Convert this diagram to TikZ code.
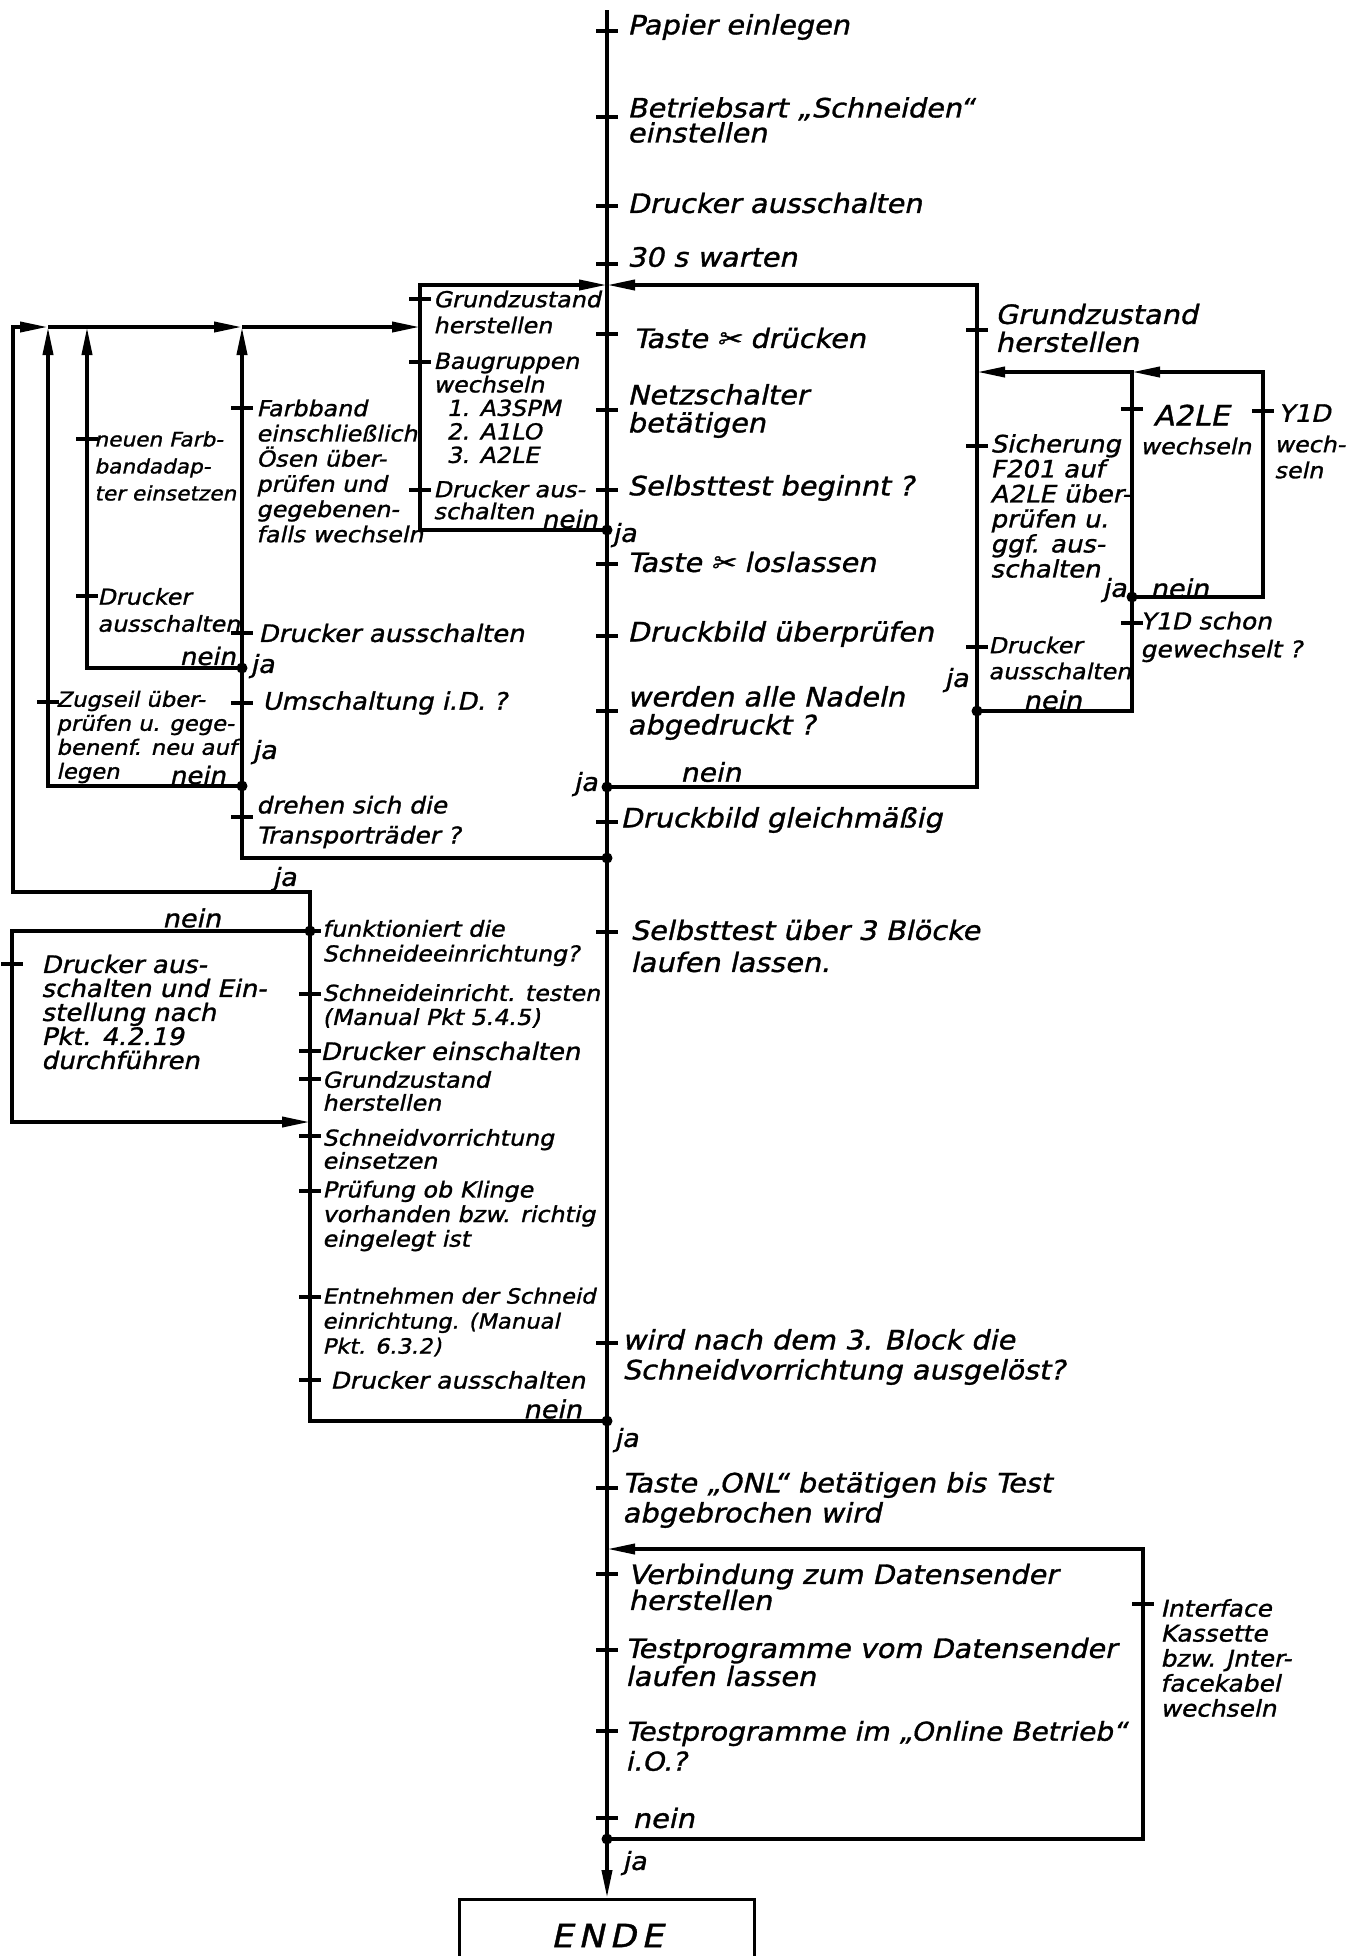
\documentclass[tikz,border=0pt]{standalone}
\usepackage{fontspec}
\newfontfamily\hand{DejaVu Sans}[FakeSlant=0.22,FakeStretch=1.08,FakeBold=1.2]
\usetikzlibrary{arrows.meta}
\newcommand\hsz[2]{\hand\fontsize{#1}{#2}\selectfont}
\newcommand\tickmark[2]{\draw[tck] (#1-11,#2) -- (#1+11,#2);}
\begin{document}
\begin{tikzpicture}[x=0.5pt,y=-0.5pt,
  fl/.style={line width=1.9pt},
  arr/.style={-{Triangle[length=14pt,width=5pt]}},
  tck/.style={line width=1.7pt},
  dotn/.style={circle,fill=black,inner sep=0pt,minimum size=5.5pt},
  tx/.style={anchor=west,align=left,inner sep=0pt},
  txe/.style={anchor=east,align=right,inner sep=0pt},
  big/.style={tx,font=\hsz{13.3}{14}},
  lab/.style={inner sep=0pt,font=\hsz{12.5}{13}}
]
\useasboundingbox (0,0) rectangle (1357,1956);
% ---------- coordinates ----------
\coordinate (top) at (607,10);
\coordinate (j285) at (607,285);
\coordinate (d530) at (607,530);
\coordinate (d787) at (607,787);
\coordinate (d858) at (607,858);
\coordinate (d1421) at (607,1421);
\coordinate (j1549) at (607,1549);
\coordinate (d1839) at (607,1839);
\coordinate (endtop) at (607,1898);
\coordinate (bbBR) at (977,787);
\coordinate (bbTR) at (977,285);
\coordinate (r711) at (977,711);
\coordinate (r372) at (977,372);
\coordinate (m711) at (1132,711);
\coordinate (m372) at (1132,372);
\coordinate (m597) at (1132,597);
\coordinate (q597) at (1263,597);
\coordinate (q372) at (1263,372);
\coordinate (lbBL) at (420,530);
\coordinate (lbTL) at (420,285);
\coordinate (h13) at (13,327);
\coordinate (h48) at (48,327);
\coordinate (h87) at (87,327);
\coordinate (h242) at (242,327);
\coordinate (h420) at (420,327);
\coordinate (v242b) at (242,858);
\coordinate (d668) at (242,668);
\coordinate (c87) at (87,668);
\coordinate (d786) at (242,786);
\coordinate (c48) at (48,786);
\coordinate (o310b) at (310,1421);
\coordinate (o310t) at (310,892);
\coordinate (o13b) at (13,892);
\coordinate (d931) at (310,931);
\coordinate (n12t) at (12,931);
\coordinate (n12b) at (12,1122);
\coordinate (n310) at (310,1122);
\coordinate (vBR) at (1143,1839);
\coordinate (vTR) at (1143,1549);
% ---------- ENDE ----------
\node[draw,line width=1.5pt,minimum width=147.5pt,minimum height=36pt,anchor=north,
  font=\hsz{16}{16}] (ende) at (endtop) {E\,N\,D\,E};
% ---------- lines ----------
\draw[fl,arr] (top) -- (ende.north);
\draw[fl,arr] (d787) -- (bbBR) -- (bbTR) -- (j285);
\draw[fl,arr] (r711) -- (m711) -- (m372) -- (r372);
\draw[fl,arr] (m597) -- (q597) -- (q372) -- (m372);
\draw[fl,arr] (d530) -- (lbBL) -- (lbTL) -- (j285);
\draw[fl,arr] (d858) -- (v242b) -- (h242);
\draw[fl,arr] (h242) -- (h420);
\draw[fl,arr] (d668) -- (c87) -- (h87);
\draw[fl,arr] (h87) -- (h242);
\draw[fl,arr] (d786) -- (c48) -- (h48);
\draw[fl] (h48) -- (h87);
\draw[fl,arr] (d1421) -- (o310b) -- (o310t) -- (o13b) -- (h13) -- (h48);
\draw[fl,arr] (d931) -- (n12t) -- (n12b) -- (n310);
\draw[fl,arr] (d1839) -- (vBR) -- (vTR) -- (j1549);
% ---------- dots ----------
\foreach \p in {d530,d787,d858,d1421,d1839,d668,d786,r711,m597,d931}
  \node[dotn] (dot-\p) at (\p) {};
% ---------- ticks ----------
\foreach \y in {31,117,206,264,334,410,490,564,636,711,822,932,1343,1488,1574,1650,1731,1818}
  {\tickmark{607}{\y}}
\foreach \y in {299,362,490} {\tickmark{420}{\y}}
\foreach \y in {408,633,703,817} {\tickmark{242}{\y}}
\foreach \y in {439,596} {\tickmark{87}{\y}}
\tickmark{48}{702}
\tickmark{12}{964}
\foreach \y in {931,994,1051,1079,1136,1191,1297,1380} {\tickmark{310}{\y}}
\foreach \y in {330,446,647} {\tickmark{977}{\y}}
\foreach \y in {409,623} {\tickmark{1132}{\y}}
\tickmark{1263}{411}
\tickmark{1143}{1604}
% ---------- spine texts ----------
\node[big] (t1) at (627,27) {Papier einlegen};
\node[big,font=\hsz{13.3}{12.5}] (t2) at (627,120) {Betriebsart „Schneiden“\\einstellen};
\node[big] (t3) at (627,203) {Drucker ausschalten};
\node[big] (t4) at (627,257) {30 s warten};
\node[big] (t5) at (633,338) {Taste ✂ drücken};
\node[big] (t6) at (627,411) {Netzschalter\\betätigen};
\node[big] (t7) at (627,488) {Selbsttest beginnt ?};
\node[big] (t8) at (627,562) {Taste ✂ loslassen};
\node[big] (t9) at (627,634) {Druckbild überprüfen};
\node[big] (t10) at (627,713) {werden alle Nadeln\\abgedruckt ?};
\node[big] (t11) at (620,820) {Druckbild gleichmäßig};
\node[big,font=\hsz{13.3}{16}] (t12) at (630,946) {Selbsttest über 3 Blöcke\\laufen lassen.};
\node[big,font=\hsz{13.3}{15}] (t13) at (622,1357) {wird nach dem 3. Block die\\Schneidvorrichtung ausgelöst?};
\node[big,font=\hsz{13.3}{15}] (t14) at (622,1500) {Taste „ONL“ betätigen bis Test\\abgebrochen wird};
\node[big,font=\hsz{13.3}{13}] (t15) at (628,1587) {Verbindung zum Datensender\\herstellen};
\node[big] (t16) at (625,1662) {Testprogramme vom Datensender\\laufen lassen};
\node[big,font=\hsz{13}{15}] (t17) at (625,1746) {Testprogramme im „Online Betrieb“\\i.O.?};
\node[big] (t18) at (632,1818) {nein};
% ---------- right side ----------
\node[big] (r1) at (995,328) {Grundzustand\\herstellen};
\node[tx,font=\hsz{12}{12.5}] (r2) at (990,506) {Sicherung\\F201 auf\\A2LE über-\\prüfen u.\\ggf. aus-\\schalten};
\node[tx,font=\hsz{11}{13}] (r3) at (988,658) {Drucker\\ausschalten};
\node[tx,font=\hsz{14}{14}] (r4a) at (1153,415) {A2LE};
\node[tx,font=\hsz{11}{13}] (r4b) at (1140,446) {wechseln};
\node[tx,font=\hsz{12}{13}] (r5a) at (1278,413) {Y1D};
\node[tx,font=\hsz{11}{13}] (r5b) at (1274,457) {wech-\\seln};
\node[tx,font=\hsz{11.5}{14}] (r6) at (1140,637) {Y1D schon\\gewechselt ?};
% ---------- left box ----------
\node[tx,font=\hsz{11}{13}] (l1) at (433,312) {Grundzustand\\herstellen};
\node[tx,font=\hsz{11}{11.75}] (l2) at (433,408) {Baugruppen\\wechseln\\\hspace*{0.6em}1. A3SPM\\\hspace*{0.6em}2. A1LO\\\hspace*{0.6em}3. A2LE};
\node[tx,font=\hsz{11}{11}] (l3) at (433,500) {Drucker aus-\\schalten};
% ---------- left middle ----------
\node[tx,font=\hsz{11}{12.6}] (m1) at (256,471) {Farbband\\einschließlich\\Ösen über-\\prüfen und\\gegebenen-\\falls wechseln};
\node[tx,font=\hsz{12}{12}] (m2) at (258,633) {Drucker ausschalten};
\node[tx,font=\hsz{12}{12}] (m3) at (262,703) {Umschaltung i.D. ?};
\node[tx,font=\hsz{11.5}{15}] (m4) at (256,822) {drehen sich die\\Transporträder ?};
\node[tx,font=\hsz{10}{13.5}] (m5) at (94,466) {neuen Farb-\\bandadap-\\ter einsetzen};
\node[tx,font=\hsz{11}{13.5}] (m6) at (97,610) {Drucker\\ausschalten};
\node[tx,font=\hsz{10.5}{12}] (m7) at (56,737) {Zugseil über-\\prüfen u. gege-\\benenf. neu auf\\legen};
% ---------- Schneid box ----------
\node[tx,font=\hsz{11}{12.4}] (s1) at (322,943) {funktioniert die\\Schneideeinrichtung?};
\node[tx,font=\hsz{11}{12}] (s2) at (322,1006) {Schneideinricht. testen\\(Manual Pkt 5.4.5)};
\node[tx,font=\hsz{12}{12}] (s3) at (320,1051) {Drucker einschalten};
\node[tx,font=\hsz{11}{11.5}] (s4) at (322,1091) {Grundzustand\\herstellen};
\node[tx,font=\hsz{11}{11.5}] (s5) at (322,1149) {Schneidvorrichtung\\einsetzen};
\node[tx,font=\hsz{11}{12.3}] (s6) at (322,1216) {Prüfung ob Klinge\\vorhanden bzw. richtig\\eingelegt ist};
\node[tx,font=\hsz{10.5}{12.5}] (s7) at (322,1322) {Entnehmen der Schneid\\einrichtung. (Manual\\Pkt. 6.3.2)};
\node[tx,font=\hsz{11.5}{12}] (s8) at (330,1380) {Drucker ausschalten};
\node[tx,font=\hsz{12}{12}] (k1) at (41,1012) {Drucker aus-\\schalten und Ein-\\stellung nach\\Pkt. 4.2.19\\durchführen};
% ---------- interface ----------
\node[tx,font=\hsz{11.5}{12.5}] (i1) at (1160,1658) {Interface\\Kassette\\bzw. Jnter-\\facekabel\\wechseln};
% ---------- ja / nein ----------
\node[lab,anchor=west] (ja1) at (612,535) {ja};
\node[lab,anchor=west,font=\hsz{13}{13}] (ne1) at (680,772) {nein};
\node[lab,anchor=east] (ja2) at (598,784) {ja};
\node[lab,anchor=east,font=\hsz{12}{12}] (ne2) at (598,519) {nein};
\node[lab,anchor=west] (ja3) at (944,680) {ja};
\node[lab,anchor=west] (ne3) at (1023,700) {nein};
\node[lab,anchor=east] (ja4) at (1127,590) {ja};
\node[lab,anchor=west] (ne4) at (1150,588) {nein};
\node[lab,anchor=west] (ja5) at (250,666) {ja};
\node[lab,anchor=east,font=\hsz{12}{12}] (ne5) at (236,656) {nein};
\node[lab,anchor=west] (ja6) at (252,752) {ja};
\node[lab,anchor=east,font=\hsz{12}{12}] (ne6) at (226,775) {nein};
\node[lab,anchor=west] (ja7) at (272,879) {ja};
\node[lab,anchor=west] (ne7) at (162,918) {nein};
\node[lab,anchor=east] (ne8) at (582,1409) {nein};
\node[lab,anchor=west] (ja8) at (614,1440) {ja};
\node[lab,anchor=west] (ja9) at (622,1863) {ja};
\end{tikzpicture}
\end{document}
